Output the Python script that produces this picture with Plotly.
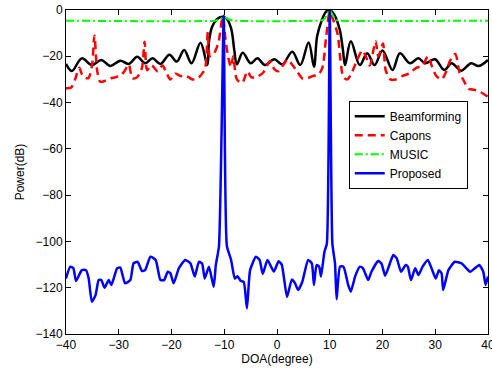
import plotly.graph_objects as go

# ---------------- data ----------------
bf_x = [-40, -38.9, -37, -35.1, -33.3, -31.6, -29.7, -28.1, -26.5, -25,
        -23.6, -22.1, -20.4, -19, -17.6, -16.2, -14.5, -13.2, -12.9, -12.3,
        -11.4, -10.4, -9.6, -8.7, -8.1, -7.6, -6.5, -5.0, -3.7, -2.3,
        -0.5, 1.0, 2.9, 4.4, 6.0, 7.0, 7.6, 8.4, 9.3, 10.0,
        10.9, 11.9, 12.5, 12.9, 14.0, 15.7, 17.1, 18.5, 20.0, 21.9,
        23.3, 25.2, 26.8, 28.1, 29.95, 31.7, 33.1, 34.9, 36.8, 38.2,
        40]
bf_y = [-23.3, -26.4, -20.9, -23.8, -21.6, -24.2, -21.9, -23.3, -20.2, -23,
        -20.9, -23.3, -19.3, -22.3, -17.3, -23, -14.1, -23.8, -13.7, -7.2,
        -4.0, -2.9, -3.6, -7.9, -17.3, -23.5, -18.5, -23, -20.9, -23.8,
        -21.3, -23.5, -18, -23.8, -14, -24.5, -11.5, -5, -0.7, 0,
        -2.2, -8.6, -17.3, -23.8, -13.5, -23.8, -18.7, -23.8, -17.5, -25.9,
        -18.7, -23, -20.9, -23, -21.3, -25.9, -23, -26.2, -23, -24.2,
        -21.6]

cap_x = [-40, -39, -38.2, -37.5, -36.8, -35.8, -35.1, -34.6, -34.1, -33.5,
         -32.5, -31.5, -30.5, -29.5, -28.8, -28.1, -27.4, -26.5, -25.6, -25.1,
         -24.6, -23.8, -22.6, -21.7, -20.9, -20.2, -19.3, -18.3, -17.2, -16,
         -15, -14.2, -13.6, -13.1, -12.7, -12, -11.1, -10.3, -9.8, -9.2,
         -8.7, -8.3, -7.6, -6.6, -5.6, -4.9, -3.9, -2.6, -1.3, -0.5,
         0.3, 1.1, 2, 3, 3.8, 4.8, 5.8, 6.8, 7.8, 8.6,
         9.3, 10, 10.7, 11.5, 12, 12.6, 13.3, 14.2, 15.2, 16.2,
         17, 17.6, 18.3, 18.7, 19.2, 19.7, 20.1, 20.6, 21.5, 22.5,
         23.8, 25, 26.4, 27.6, 28.6, 29.4, 30.2, 31.2, 32, 32.8,
         33.8, 34.6, 35.4, 36.3, 37.5, 38.6, 40]
cap_y = [-33.8, -33.5, -29.5, -25, -28.5, -29.5, -24.5, -11, -26, -31,
         -30.5, -29.5, -29, -28, -26, -23.5, -29.5, -29, -25, -13.7,
         -26, -23.8, -26.5, -24, -27.5, -30, -27.5, -28.5, -28.5, -30,
         -29.5, -27.5, -25, -9.5, -20, -19, -14, -3, -12, -21,
         -24.5, -20, -30, -31.5, -26.5, -29, -29, -27, -22, -25.5,
         -26.5, -24, -21.5, -24, -26.5, -29.5, -29.5, -28.5, -28, -25,
         -12, -1, -4.5, -10.5, -21, -29, -30, -27, -21.5, -17.5,
         -21, -24, -17, -13.5, -20, -17, -14.5, -26, -30, -30,
         -28.5, -27.5, -25, -24, -20, -24.5, -28.5, -30, -27, -22,
         -19, -27, -30.5, -34, -34.5, -35.5, -37.5]

mu_x = [-40, -11.8, -10.8, -10, -9.2, -8.2, 8, 8.8, 9.4, 10, 10.6, 11.2, 12, 40]
mu_y = [-4.6, -4.6, -4.0, -3.0, -4.0, -4.6, -4.6, -4.3, -2.5, 0, -2.5, -4.3, -4.6, -4.6]

pr_x = [-40, -39.2, -38.6, -38.1, -37.0, -36.2, -35.7, -35.1, -34.4, -33.8,
        -33.3, -32.7, -31.9, -31.4, -30.3, -29.7, -28.8, -27.8, -27.2, -26.4,
        -25.6, -25.0, -24.0, -23.0, -22.1, -21.4, -20.7, -20.2, -19.6, -18.6,
        -17.4, -16.4, -15.6, -14.8, -14.2, -13.7, -12.9, -12.0, -11.6, -11.0,
        -10.1, -9.5, -8.7, -8.0, -7.5, -6.9, -6.3, -5.7, -5.1, -4.0,
        -3.3, -2.7, -1.8, -0.6, 0.3, 0.9, 1.9, 2.8, 3.4, 4.0,
        4.8, 5.9, 6.6, 7.0, 7.5, 8.0, 8.34, 9.0, 9.45, 10.0,
        10.5, 11.0, 11.3, 11.94, 12.6, 13.5, 14.0, 14.8, 15.7, 16.3,
        17.3, 17.9, 19.2, 19.8, 20.5, 21.4, 22.05, 22.7, 23.5, 24.4,
        24.8, 25.4, 26.2, 26.8, 27.6, 28.6, 29.3, 30.1, 30.7, 31.2,
        31.5, 32.5, 33.7, 35.0, 36.6, 37.5, 38.35, 39.1, 39.55, 40]
pr_y = [-116, -110.9, -111.6, -117.1, -112.4, -112.4, -116, -126.1, -123.2, -116.7,
        -116.7, -120, -116.7, -118.8, -111.6, -111.3, -118.1, -116.7, -109.5, -108.8,
        -112.8, -112.4, -106.6, -108, -116.7, -116.7, -113.1, -113.8, -118.1, -111.6,
        -108, -109.5, -115.2, -108.8, -109.5, -116, -110.9, -119.6, -110.2, -102,
        -2.5, -102, -108, -116, -115, -117, -117.5, -128.9, -112.4, -106.6,
        -108, -114, -108, -113, -108.6, -110, -124, -116.5, -118, -121,
        -117.4, -108, -109.5, -118.8, -110.2, -110.9, -115.2, -104.4, -101, 0,
        -101, -109.5, -125, -110.9, -110.9, -118.8, -121.7, -115.2, -110.9, -111.6,
        -116.7, -113.1, -108.5, -109.5, -114.8, -109.5, -105.9, -107.3, -113.1, -110.2,
        -110.9, -116.7, -111.6, -114.5, -110.9, -108, -111.6, -116, -112.4, -113.8,
        -121, -112.4, -108.8, -109.5, -113.1, -111.6, -110.2, -113.1, -118.8, -115.2]

x_ticks = [-40, -30, -20, -10, 0, 10, 20, 30, 40]
y_ticks = [-140, -120, -100, -80, -60, -40, -20, 0]

FONT = "Liberation Sans, Arial, sans-serif"

fig = go.Figure()
fig.add_trace(go.Scatter(x=bf_x, y=bf_y, mode="lines", name="Beamforming",
                         line=dict(color="#000000", width=2.5, shape="spline", smoothing=1.0)))
fig.add_trace(go.Scatter(x=cap_x, y=cap_y, mode="lines", name="Capons",
                         line=dict(color="#ff0000", width=2.5, dash="8px,5px", shape="spline", smoothing=0.8)))
fig.add_trace(go.Scatter(x=mu_x, y=mu_y, mode="lines", name="MUSIC",
                         line=dict(color="#00ff00", width=2, dash="8px,3px,2px,3px", shape="spline", smoothing=0.6)))
fig.add_trace(go.Scatter(x=pr_x, y=pr_y, mode="lines", name="Proposed",
                         line=dict(color="#0000ff", width=2.5, shape="spline", smoothing=0.5)))

axis_common = dict(showgrid=False, zeroline=False, showline=True, linecolor="black",
                   linewidth=1, mirror="ticks", ticks="inside", ticklen=5,
                   tickcolor="black", automargin=False, ticklabeloverflow="allow",
                   tickfont=dict(family=FONT, size=12, color="black"))

fig.update_xaxes(range=[-40, 40], tickvals=x_ticks,
                 title=dict(text="DOA(degree)", font=dict(family=FONT, size=12, color="black"), standoff=2),
                 **axis_common)
fig.update_yaxes(range=[-140, 0], tickvals=y_ticks,
                 title=dict(text="Power(dB)", font=dict(family=FONT, size=12, color="black"), standoff=8),
                 **axis_common)

fig.update_layout(
    width=492, height=374,
    margin=dict(l=66, r=4, t=10, b=40),
    paper_bgcolor="white", plot_bgcolor="white",
    font=dict(family=FONT, size=12, color="black"),
    legend=dict(x=0.67, y=0.72, xanchor="left", yanchor="top",
                bgcolor="white", bordercolor="black", borderwidth=1,
                font=dict(family=FONT, size=12, color="black"),
                tracegroupgap=0),
)

fig.write_html("out.html", config={"displayModeBar": False},
               post_script="document.body.style.margin='0';document.body.style.padding='0';")
